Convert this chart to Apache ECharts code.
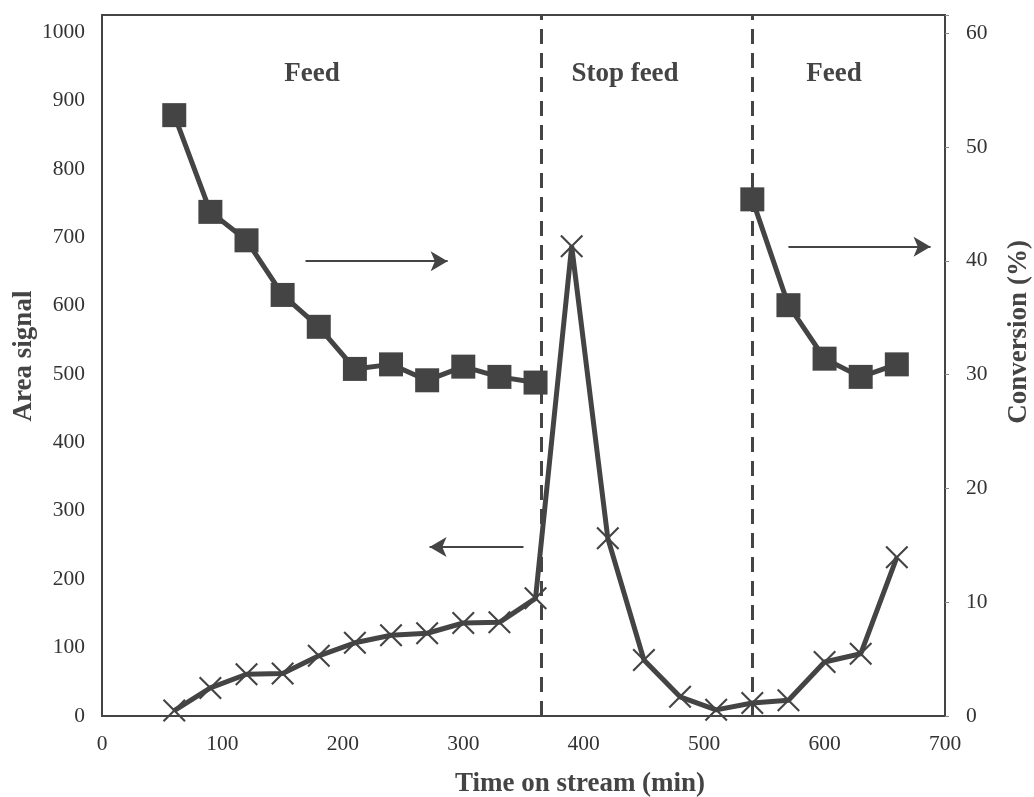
<!DOCTYPE html>
<html><head><meta charset="utf-8">
<script src="https://cdn.jsdelivr.net/npm/echarts@6/dist/echarts.min.js"></script>
<style>html,body{margin:0;padding:0;background:#fff}#c{width:1034px;height:797px}</style>
</head><body><div id="c"></div>
<script>
// ---- data ----
var times = [60, 90, 120, 150, 180, 210, 240, 270, 300, 330, 360, 390, 420, 450, 480, 510, 540, 570, 600, 630, 660];
var areaSignal = [8, 41, 61, 62, 88, 107, 118, 121, 136, 137, 172, 687, 260, 82, 28, 9, 19, 23, 79, 91, 232];
var conversion = [52.8, 44.3, 41.8, 37.0, 34.2, 30.5, 30.9, 29.5, 30.7, 29.8, 29.3, null, null, null, null, null, 45.4, 36.1, 31.4, 29.8, 30.9];
var phaseBounds = [365, 540];
var phaseLabels = ['Feed', 'Stop feed', 'Feed'];
var xTicks = [0, 100, 200, 300, 400, 500, 600, 700];
var leftTicks = [0, 100, 200, 300, 400, 500, 600, 700, 800, 900, 1000];
var rightTicks = [0, 10, 20, 30, 40, 50, 60];
// arrows: [x1, y1(area), x2, y2(area)]
var arrows = [[169, 665, 287, 665], [350, 247, 272, 247], [570, 686, 688, 686]];

var C = '#444444';
var FONT = 'Liberation Serif';
var TITLE_FONT = 'bold 27px "Liberation Serif"';
var chart = echarts.init(document.getElementById('c'));

var areaData = times.map(function(t,i){ return [t, areaSignal[i]]; });
var convData = times.map(function(t,i){ return [t, conversion[i]]; });

var option = {
  animation: false,
  backgroundColor: '#fff',
  grid: { left: 102, right: 89, top: 15, bottom: 81, show: true, borderColor: C, borderWidth: 2 },
  xAxis: {
    type: 'value', min: xTicks[0], max: xTicks[xTicks.length-1], interval: 100,
    axisLine: { show: true, lineStyle: { color: C, width: 2 } },
    axisTick: { show: false },
    splitLine: { show: false },
    axisLabel: { margin: 17, fontFamily: FONT, fontSize: 21.5, color: '#333' }
  },
  yAxis: [{
    type: 'value', min: 0, max: 1025, interval: 100,
    axisLine: { show: true, lineStyle: { color: C, width: 2 } },
    axisTick: { show: false },
    splitLine: { show: false },
    axisLabel: { margin: 17, fontFamily: FONT, fontSize: 21.5, color: '#333',
      formatter: function(v){ return leftTicks.indexOf(v) >= 0 ? String(v) : ''; } }
  }, {
    type: 'value', min: 0, max: 61.6, interval: 10, position: 'right',
    axisLine: { show: true, lineStyle: { color: C, width: 2 } },
    axisTick: { show: true, length: 4, lineStyle: { color: '#888', width: 1 } },
    splitLine: { show: false },
    axisLabel: { margin: 21, fontFamily: FONT, fontSize: 21.5, color: '#333',
      formatter: function(v){ return rightTicks.indexOf(v) >= 0 ? String(v) : ''; } }
  }],
  series: [{
    name: 'Conversion', type: 'line', yAxisIndex: 1, data: convData,
    connectNulls: false,
    symbol: 'rect', symbolSize: 24,
    itemStyle: { color: C },
    lineStyle: { color: C, width: 5 },
    z: 3,
    markLine: {
      silent: true, symbol: 'none',
      label: { show: false },
      lineStyle: { color: C, width: 3, type: [15, 9] },
      data: phaseBounds.map(function(b){ return { xAxis: b }; })
    }
  }, {
    name: 'Area signal', type: 'line', yAxisIndex: 0, data: areaData,
    symbol: 'path://M0,1.3 L1.3,0 L10,8.7 L18.7,0 L20,1.3 L11.3,10 L20,18.7 L18.7,20 L10,11.3 L1.3,20 L0,18.7 L8.7,10 Z',
    symbolSize: 23,
    itemStyle: { color: C },
    lineStyle: { color: C, width: 5 },
    z: 4,
    markLine: {
      silent: true, symbol: ['none', 'arrow'], symbolSize: [15, 17],
      label: { show: false },
      lineStyle: { color: C, width: 2, type: 'solid' },
      data: arrows.map(function(a){ return [{ coord: [a[0], a[1]] }, { coord: [a[2], a[3]] }]; })
    }
  }],
  graphic: [
    { type: 'text', x: 24, y: 356, rotation: Math.PI/2, style: { text: 'Area signal', font: TITLE_FONT, fill: C, align: 'center', verticalAlign: 'middle' } },
    { type: 'text', x: 1019, y: 332, rotation: Math.PI/2, style: { text: 'Conversion (%)', font: TITLE_FONT, fill: C, align: 'center', verticalAlign: 'middle' } },
    { type: 'text', x: 580, y: 784, style: { text: 'Time on stream (min)', font: TITLE_FONT, fill: C, align: 'center', verticalAlign: 'middle' } },
    { type: 'text', x: 312, y: 74, style: { text: phaseLabels[0], font: TITLE_FONT, fill: C, align: 'center', verticalAlign: 'middle' } },
    { type: 'text', x: 625, y: 74, style: { text: phaseLabels[1], font: TITLE_FONT, fill: C, align: 'center', verticalAlign: 'middle' } },
    { type: 'text', x: 834, y: 74, style: { text: phaseLabels[2], font: TITLE_FONT, fill: C, align: 'center', verticalAlign: 'middle' } }
  ]
};
chart.setOption(option);
</script>
</body></html>
